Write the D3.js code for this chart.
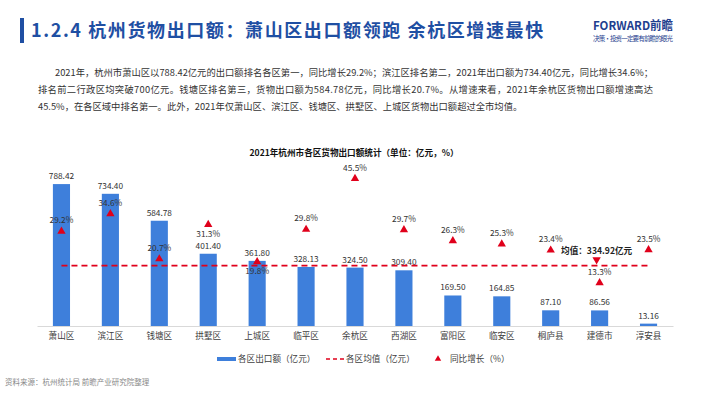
<!DOCTYPE html>
<html>
<head>
<meta charset="utf-8">
<script src="https://cdn.jsdelivr.net/npm/d3@7"></script>
<style>
  body { margin: 0; background: #fff; }
  svg { display: block; font-family: "Noto Sans CJK SC", "Noto Sans", sans-serif; }
</style>
</head>
<body>
<div id="vis"></div>
<script>
// data
const districts = ['萧山区', '滨江区', '钱塘区', '拱墅区', '上城区', '临平区', '余杭区', '西湖区', '富阳区', '临安区', '桐庐县', '建德市', '淳安县'];
const exportValues = [788.42, 734.40, 584.78, 401.40, 361.80, 328.13, 324.50, 309.40, 169.50, 164.85, 87.10, 86.56, 13.16];
const growthRates = [29.2, 34.6, 20.7, 31.3, 19.8, 29.8, 45.5, 29.7, 26.3, 25.3, 23.4, 13.3, 23.5];
const meanValue = 334.92;
const legendLabels = ['各区出口额（亿元）', '各区均值（亿元）', '同比增长（%）'];

const paragraph = [
  '2021年，杭州市萧山区以788.42亿元的出口额排名各区第一，同比增长29.2%；滨江区排名第二，2021年出口额为734.40亿元，同比增长34.6%；',
  '排名前二行政区均突破700亿元。钱塘区排名第三，货物出口额为584.78亿元，同比增长20.7%。从增速来看，2021年余杭区货物出口额增速高达',
  '45.5%，在各区域中排名第一。此外，2021年仅萧山区、滨江区、钱塘区、拱墅区、上城区货物出口额超过全市均值。'
];

const W = 710, H = 399;
const barColor = '#3e7fdb', red = '#e0001b';

let svg = d3.select('#vis')
  .append('svg')
  .attr('width', W)
  .attr('height', H);

svg.append('rect').attr('width', W).attr('height', H).attr('fill', '#fff');

// header
svg.append('rect')
  .attr('x', 20).attr('y', 18).attr('width', 4).attr('height', 25)
  .attr('fill', '#1f4fa3');

svg.append('text')
  .attr('x', 31).attr('y', 37)
  .style('font-size', '18px')
  .style('font-weight', 'bold')
  .style('letter-spacing', '1.6px')
  .attr('fill', '#1f4fa3')
  .text('1.2.4 杭州货物出口额：萧山区出口额领跑 余杭区增速最快');

// logo
svg.append('text')
  .attr('x', 593).attr('y', 30)
  .attr('textLength', 80)
  .attr('lengthAdjust', 'spacingAndGlyphs')
  .style('font-size', '12px')
  .style('font-weight', 'bold')
  .attr('fill', '#1f3f8f')
  .text('FORWARD前瞻');
svg.append('text')
  .attr('x', 593).attr('y', 41)
  .attr('textLength', 80)
  .style('font-size', '6.5px')
  .attr('fill', '#1f3f8f')
  .text('决策·投资一定要有前瞻的眼光');

// paragraph
svg.append('text').attr('x', 55).attr('y', 76)
  .attr('textLength', 598).attr('lengthAdjust', 'spacing')
  .style('font-size', '9.3px').attr('fill', '#333')
  .text(paragraph[0]);
svg.append('text').attr('x', 38).attr('y', 93)
  .attr('textLength', 615).attr('lengthAdjust', 'spacing')
  .style('font-size', '9.3px').attr('fill', '#333')
  .text(paragraph[1]);
svg.append('text').attr('x', 38).attr('y', 110)
  .style('font-size', '9.3px').attr('fill', '#333')
  .text(paragraph[2]);

// chart title
svg.append('text')
  .attr('x', 354).attr('y', 156)
  .attr('text-anchor', 'middle')
  .style('font-size', '8.6px')
  .style('font-weight', 'bold')
  .attr('fill', '#111')
  .text('2021年杭州市各区货物出口额统计（单位：亿元，%）');

// scales
let x = d3.scaleBand().domain(districts).range([37, 673]);
let y = d3.scaleLinear().domain([0, 900]).range([326, 164]);
let y2 = d3.scaleLinear().domain([0, 50]).range([326, 164]);
let bw = x.bandwidth() * 0.35;
let cx = d => x(d) + x.bandwidth() / 2;

// x axis
let xAxis = svg.append('g')
  .attr('transform', 'translate(0,326)')
  .call(d3.axisBottom(x).tickSize(0).tickPadding(7));
xAxis.select('.domain').attr('stroke', '#d9d9d9');
xAxis.selectAll('text')
  .style('font-family', '"Noto Sans CJK SC", sans-serif')
  .style('font-size', '8.6px')
  .attr('fill', '#404040');

// bars
svg.append('g').selectAll('rect')
  .data(districts)
  .enter()
  .append('rect')
  .attr('x', d => cx(d) - bw / 2)
  .attr('width', bw)
  .attr('y', (d, i) => y(exportValues[i]))
  .attr('height', (d, i) => y(0) - y(exportValues[i]))
  .attr('fill', barColor);

svg.append('g').selectAll('text')
  .data(districts)
  .enter()
  .append('text')
  .attr('x', d => cx(d))
  .attr('y', (d, i) => y(exportValues[i]) - 5)
  .attr('text-anchor', 'middle')
  .style('font-size', '8.3px')
  .attr('fill', '#333')
  .text((d, i) => exportValues[i].toFixed(2));

// mean line
svg.append('line')
  .attr('x1', cx(districts[0]))
  .attr('x2', cx(districts[districts.length - 1]))
  .attr('y1', y(meanValue))
  .attr('y2', y(meanValue))
  .attr('stroke', red)
  .attr('stroke-width', 1.8)
  .attr('stroke-dasharray', '6,4');

// growth triangles
let tri = d3.symbol().type(d3.symbolTriangle).size(30);
svg.append('g').selectAll('path')
  .data(districts)
  .enter()
  .append('path')
  .attr('d', tri)
  .attr('transform', (d, i) => 'translate(' + cx(d) + ',' + y2(growthRates[i]) + ')')
  .attr('fill', red);

// labels below the marker for the two that sit close to the bar labels
let below = ['拱墅区', '上城区'];
svg.append('g').selectAll('text')
  .data(districts)
  .enter()
  .append('text')
  .attr('x', d => cx(d))
  .attr('y', (d, i) => y2(growthRates[i]) + (below.includes(d) ? 12 : -8))
  .attr('text-anchor', 'middle')
  .style('font-size', '8.3px')
  .attr('fill', '#333')
  .text((d, i) => growthRates[i].toFixed(1) + '%');

// mean annotation
let annX = cx('建德市') - 3;
svg.append('path')
  .attr('d', tri)
  .attr('transform', 'translate(' + annX + ',' + (y(meanValue) - 6) + ') rotate(180)')
  .attr('fill', red);
svg.append('text')
  .attr('x', annX)
  .attr('y', y(meanValue) - 12)
  .attr('text-anchor', 'middle')
  .style('font-size', '8.6px')
  .style('font-weight', 'bold')
  .attr('fill', '#222')
  .text('均值：' + meanValue.toFixed(2) + '亿元');

// legend
let lg = svg.append('g').attr('transform', 'translate(0,359)');
lg.append('rect').attr('x', 217).attr('y', -2).attr('width', 19).attr('height', 4).attr('fill', barColor);
lg.append('text').attr('x', 238).attr('y', 3).style('font-size', '8.6px').attr('fill', '#404040').text(legendLabels[0]);
lg.append('line').attr('x1', 326).attr('x2', 345).attr('y1', 0).attr('y2', 0)
  .attr('stroke', red).attr('stroke-width', 1.5).attr('stroke-dasharray', '4,3');
lg.append('text').attr('x', 346).attr('y', 3).style('font-size', '8.6px').attr('fill', '#404040').text(legendLabels[1]);
lg.append('path').attr('d', d3.symbol().type(d3.symbolTriangle).size(18))
  .attr('transform', 'translate(438,0)').attr('fill', red);
lg.append('text').attr('x', 450).attr('y', 3).style('font-size', '8.6px').attr('fill', '#404040').text(legendLabels[2]);

// source
svg.append('text')
  .attr('x', 5).attr('y', 385)
  .style('font-size', '7.5px')
  .attr('fill', '#888')
  .text('资料来源：杭州统计局 前瞻产业研究院整理');
</script>
</body>
</html>
